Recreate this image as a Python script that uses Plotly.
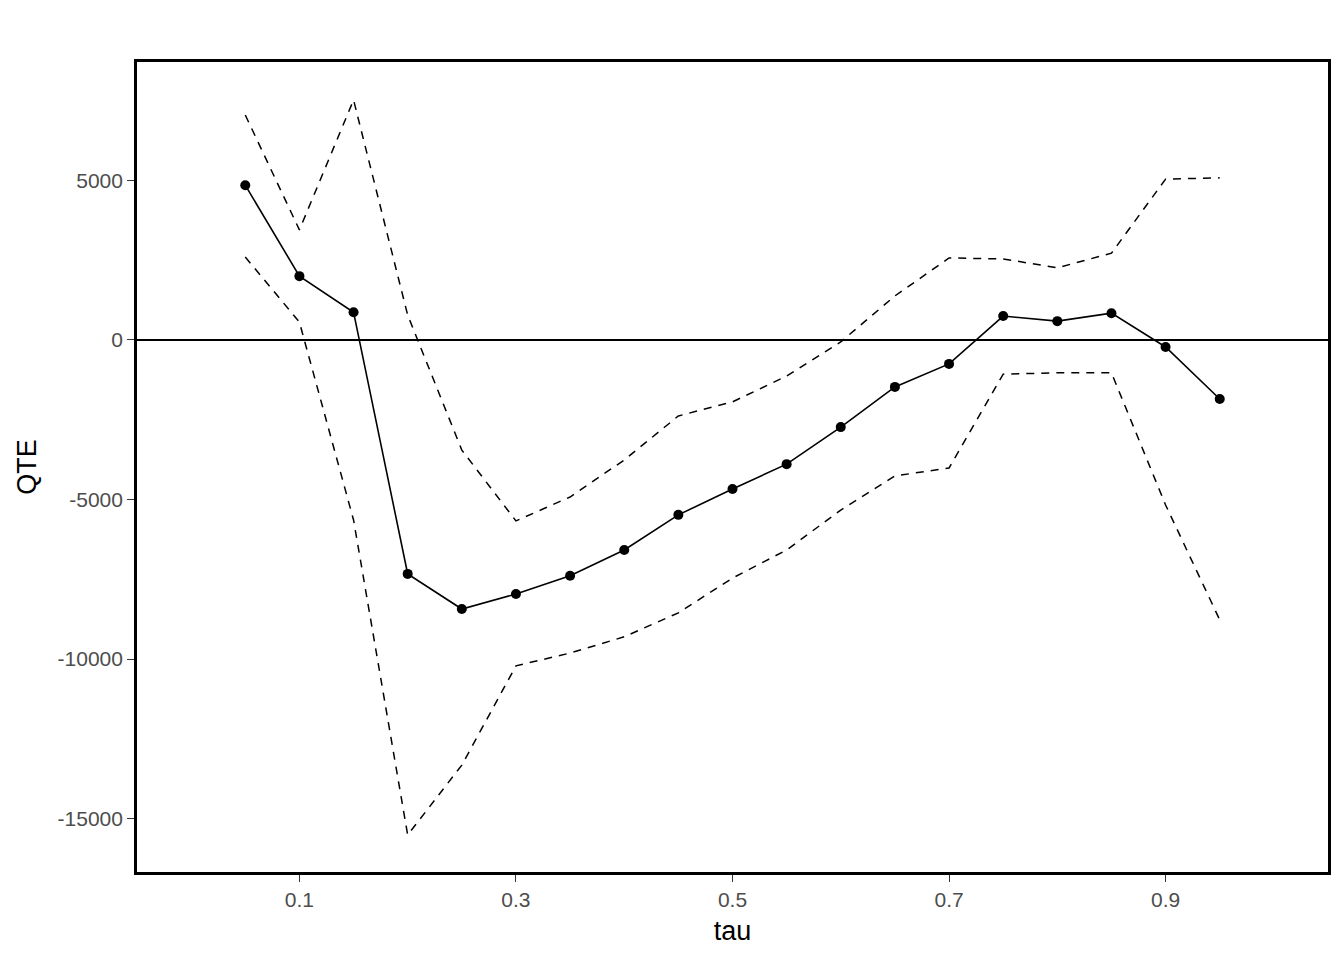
import plotly.graph_objects as go

tau = [0.05, 0.10, 0.15, 0.20, 0.25, 0.30, 0.35, 0.40, 0.45, 0.50,
       0.55, 0.60, 0.65, 0.70, 0.75, 0.80, 0.85, 0.90, 0.95]
qte = [4850, 2000, 870, -7330, -8430, -7960, -7390, -6580, -5480, -4670,
       -3890, -2730, -1470, -750, 750, 590, 840, -220, -1850]
upper = [7050, 3450, 7520, 780, -3450, -5670, -4920, -3760, -2380, -1940,
         -1130, -60, 1380, 2570, 2540, 2260, 2720, 5040, 5080]
lower = [2600, 560, -5640, -15510, -13320, -10210, -9810, -9300, -8550, -7460,
         -6580, -5330, -4260, -4010, -1070, -1030, -1030, -5170, -8770]

x_ticks = [0.1, 0.3, 0.5, 0.7, 0.9]
y_ticks = [5000, 0, -5000, -10000, -15000]

fig = go.Figure()
fig.add_trace(go.Scatter(x=tau, y=upper, mode="lines",
                         line=dict(color="black", width=1.5, dash="8px,7px"),
                         showlegend=False, hoverinfo="skip"))
fig.add_trace(go.Scatter(x=tau, y=lower, mode="lines",
                         line=dict(color="black", width=1.5, dash="8px,7px"),
                         showlegend=False, hoverinfo="skip"))
fig.add_trace(go.Scatter(x=tau, y=qte, mode="lines+markers",
                         line=dict(color="black", width=1.6),
                         marker=dict(color="black", size=10),
                         showlegend=False))
fig.add_hline(y=0, line=dict(color="black", width=1.8))

fig.update_layout(
    width=1336, height=952,
    margin=dict(l=129, r=16, t=54, b=88),
    paper_bgcolor="white", plot_bgcolor="white",
    font=dict(family="Liberation Sans, Arial, sans-serif", color="black"),
)
fig.update_xaxes(
    range=[-0.05, 1.05], tickvals=x_ticks, ticktext=[str(v) for v in x_ticks],
    showgrid=False, zeroline=False, showline=True, mirror=True,
    linecolor="black", linewidth=2.7,
    ticks="outside", ticklen=7, tickcolor="#333333", tickwidth=1.4,
    tickfont=dict(size=21, color="#4D4D4D"),
    title=dict(text="tau", font=dict(size=27, color="black"), standoff=12),
)
fig.update_yaxes(
    range=[-16670, 8710], tickvals=y_ticks, ticktext=[str(v) for v in y_ticks],
    showgrid=False, zeroline=False, showline=True, mirror=True,
    linecolor="black", linewidth=2.7,
    ticks="outside", ticklen=7, tickcolor="#333333", tickwidth=1.4,
    tickfont=dict(size=21, color="#4D4D4D"),
    title=dict(text="QTE", font=dict(size=27, color="black"), standoff=14),
)

fig.write_html("out.html")
